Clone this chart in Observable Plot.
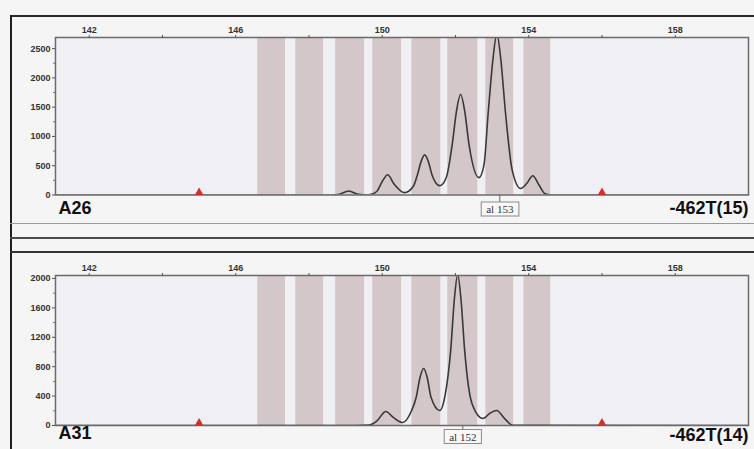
<!DOCTYPE html>
<html>
<head>
<meta charset="utf-8">
<script src="https://cdn.jsdelivr.net/npm/d3@7"></script>
<script src="https://cdn.jsdelivr.net/npm/@observablehq/plot@0.6"></script>
<style>
  html, body { margin: 0; padding: 0; background: #f5f5f5; }
  #page { position: relative; width: 754px; height: 449px; overflow: hidden; background: #f5f5f5; font-family: "Liberation Sans", Arial, sans-serif; }
  .ln { position: absolute; }
  .panel { position: absolute; left: 0; }
</style>
</head>
<body>
<div id="page">
  <div class="ln" style="left:10px;top:15px;width:744px;height:2px;background:#2a2a2a"></div>
  <div class="ln" style="left:10px;top:15px;width:2px;height:434px;background:#1e1e1e"></div>
  <div class="ln" style="left:10px;top:223px;width:744px;height:1px;background:#9a9a9a"></div>
  <div class="ln" style="left:10px;top:237px;width:744px;height:2px;background:#4a4a4a"></div>
  <div class="ln" style="left:10px;top:251px;width:744px;height:2px;background:#333"></div>
</div>
<script>
// ---- data ----
const xDomain = [141.08, 160.0];
const xMajor = [142, 146, 150, 154, 158];
const xMinor = [144, 148, 152, 156];

const binNames = [147, 148, 149, 150, 151, 152, 153, 154];
const binStart = [146.60, 147.64, 148.73, 149.74, 150.81, 151.79, 152.83, 153.87];
const binEnd   = [147.36, 148.40, 149.52, 150.53, 151.60, 152.61, 153.59, 154.60];

const markerX = [145, 156];

// sampled A26 trace (size in bp, RFU)
const a26X = [141.08, 147.0, 148.6, 148.8, 149.085, 149.35, 149.63, 149.85, 150.0, 150.15, 150.32, 150.61,
              150.85, 150.96, 151.06, 151.16, 151.26, 151.36, 151.57, 151.75, 151.91, 152.03, 152.14, 152.25, 152.37, 152.64,
              152.78, 152.89, 153.02, 153.13, 153.24, 153.37, 153.55, 153.78, 153.95, 154.11, 154.28, 154.45, 154.6, 160.0];
const a26Y = [0, 0, 0, 8, 68, 12, 2, 60, 230, 347, 190, 40,
              150, 343, 570, 686, 570, 343, 160, 300, 860, 1440, 1720, 1440, 860, 297,
              520, 1375, 2300, 2750, 2300, 1375, 420, 110, 200, 330, 170, 20, 0, 0];

// sampled A31 trace
const a31X = [141.08, 149.3, 149.63, 149.85, 150.1, 150.3, 150.56, 150.8, 150.93, 151.03, 151.13, 151.23, 151.33, 151.57,
              151.72, 151.87, 151.97, 152.06, 152.15, 152.25, 152.45, 152.75, 152.95, 153.13, 153.33, 153.57, 160.0];
const a31Y = [0, 0, 5, 60, 190, 110, 40, 200, 388, 650, 775, 650, 388, 204,
              420, 1025, 1720, 2050, 1720, 1025, 300, 95, 170, 204, 100, 3, 0];

const panelNames = ["A26", "A31"];
const panelTags = ["-462T(15)", "-462T(14)"];
const panelAlleles = [153, 152];
const panelYMax = [2690, 2040];
const a26YMajor = [0, 500, 1000, 1500, 2000, 2500];
const a26YMinor = [250, 750, 1250, 1750, 2250];
const a31YMajor = [0, 400, 800, 1200, 1600, 2000];
const a31YMinor = [200, 600, 1000, 1400, 1800];

// ---- drawing ----
const bins = binNames.map((n, i) => ({name: n, x1: binStart[i], x2: binEnd[i]}));

function panel(p) {
  const {name, tag, allele, yMax, yMajor, yMinor, xs, ys, height, mt, mb, dyName, dyTag, dyBox} = p;
  const bin = bins.find(b => b.name === allele);
  const center = (bin.x1 + bin.x2) / 2;
  const plotH = height - mt - mb;
  return Plot.plot({
    width: 754, height, marginTop: mt, marginBottom: mb, marginLeft: 55, marginRight: 6,
    style: {background: "transparent", fontFamily: "Liberation Sans, Arial, sans-serif", fontSize: "9px", overflow: "visible"},
    x: {domain: xDomain, axis: null},
    y: {domain: [0, yMax], axis: null},
    marks: [
      Plot.frame({fill: "#f0f0f4", stroke: null}),
      Plot.rect(bins, {x1: "x1", x2: "x2", fill: "#d4c7c9"}),
      Plot.line(xs, {x: xs, y: ys, curve: "monotone-x", stroke: "#383838", strokeWidth: 1.6, clip: true}),
      Plot.frame({stroke: "#6a6a6a", strokeWidth: 1.5}),
      Plot.dot(markerX, {x: d => d, y: 0, symbol: "triangle", r: 3.2, fill: "#d2302a", dy: -2.5}),
      Plot.axisX(xMajor, {anchor: "top", tickSize: 3, tickPadding: 2, stroke: "#555", fill: "#333",
        fontWeight: "bold", fontSize: 9, tickFormat: d => String(d)}),
      Plot.axisX(xMinor, {anchor: "top", tickSize: 3, tickFormat: () => "", stroke: "#555"}),
      Plot.axisY(yMajor, {anchor: "left", tickSize: 3, tickPadding: 2, stroke: "#555", fill: "#333",
        fontWeight: "bold", fontSize: 9, tickFormat: d => String(d)}),
      Plot.axisY(yMinor, {anchor: "left", tickSize: 2, tickFormat: () => "", stroke: "#777"}),
      Plot.ruleX([center], {insetTop: plotH, insetBottom: -10, stroke: "#666", strokeWidth: 1}),
      Plot.text(["al " + allele], {text: d => d, x: [center], frameAnchor: "bottom", dy: dyBox,
        fontFamily: "Liberation Serif, Times New Roman, serif", fontSize: 11, fill: "#333"}),
      Plot.text([name], {text: d => d, frameAnchor: "bottom-left", textAnchor: "start", dx: 3, dy: dyName,
        fontSize: 18, fontWeight: "bold", fill: "#111"}),
      Plot.text([tag], {text: d => d, frameAnchor: "bottom-right", textAnchor: "end", dx: 0, dy: dyTag,
        fontSize: 18, fontWeight: "bold", fill: "#111"})
    ]
  });
}

const page = document.getElementById("page");
const cfgs = [
  {name: panelNames[0], tag: panelTags[0], allele: panelAlleles[0], yMax: panelYMax[0], yMajor: a26YMajor, yMinor: a26YMinor,
   xs: a26X, ys: a26Y, height: 225, mt: 37, mb: 30.5, dyName: 19, dyTag: 19, dyBox: 18, top: 0},
  {name: panelNames[1], tag: panelTags[1], allele: panelAlleles[1], yMax: panelYMax[1], yMajor: a31YMajor, yMinor: a31YMinor,
   xs: a31X, ys: a31Y, height: 209, mt: 35, mb: 24, dyName: 13, dyTag: 15, dyBox: 15, top: 240}
];
for (const c of cfgs) {
  const svg = panel(c);
  const wrap = document.createElement("div");
  wrap.className = "panel";
  wrap.style.top = c.top + "px";
  wrap.appendChild(svg);
  page.appendChild(wrap);
  // draw a box behind the allele call
  svg.querySelectorAll("text").forEach(t => {
    if (!t.textContent.startsWith("al ")) return;
    const b = t.getBBox();
    const r = document.createElementNS("http://www.w3.org/2000/svg", "rect");
    r.setAttribute("x", b.x - 5); r.setAttribute("y", b.y - 1);
    r.setAttribute("width", b.width + 10); r.setAttribute("height", b.height + 2);
    r.setAttribute("fill", "#f8f8f8"); r.setAttribute("stroke", "#8a8a8a"); r.setAttribute("stroke-width", 1);
    if (t.getAttribute("transform")) r.setAttribute("transform", t.getAttribute("transform"));
    t.parentNode.insertBefore(r, t);
  });
}
</script>
</body>
</html>
